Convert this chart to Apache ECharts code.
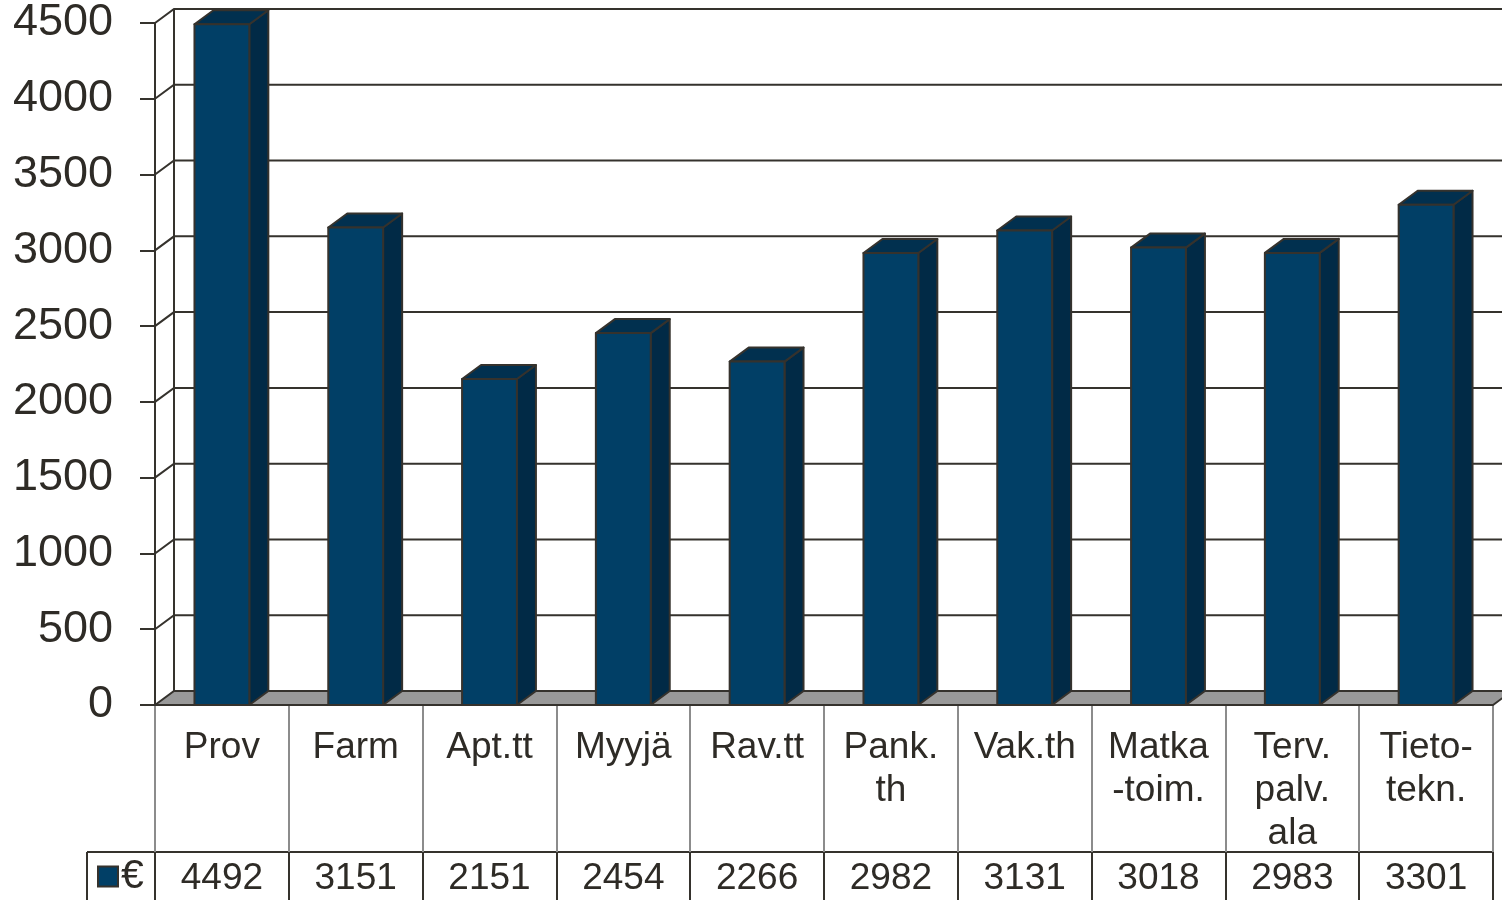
<!DOCTYPE html>
<html>
<head>
<meta charset="utf-8">
<script src="https://cdn.jsdelivr.net/npm/echarts@6/dist/echarts.min.js"></script>
<style>
html, body { margin: 0; padding: 0; background: #fff; }
#chart { width: 1502px; height: 900px; }
</style>
</head>
<body>
<div id="chart"></div>
<script>
// 分类（表格第一行）
var categories = ['Prov', 'Farm', 'Apt.tt', 'Myyjä', 'Rav.tt', 'Pank.\nth', 'Vak.th', 'Matka\n-toim.', 'Terv.\npalv.\nala', 'Tieto-\ntekn.'];
// 数值（表格第二行）
var values = [4492, 3151, 2151, 2454, 2266, 2982, 3131, 3018, 2983, 3301];
// y轴刻度
var yTicks = [0, 500, 1000, 1500, 2000, 2500, 3000, 3500, 4000, 4500];
var seriesName = '€';

// 3D 偏移
var DX = 19, DY = -14;
var textColor = '#2e2b26';
var lineColor = '#35322d';

// 后墙 + 地板
function renderWall(params, api) {
    var cs = params.coordSys;
    var v = api.value(1);
    var y = api.coord([0, v])[1];
    var x0 = cs.x, x1 = cs.x + cs.width;
    var children = [];
    if (v === 0) {
        children.push({
            type: 'polygon',
            shape: { points: [[x0, y], [x0 + DX, y + DY], [x1 + DX, y + DY], [x1, y]] },
            style: { fill: '#999999', stroke: lineColor, lineWidth: 2 }
        });
    } else {
        children.push({
            type: 'polyline',
            shape: { points: [[x0, y], [x0 + DX, y + DY], [x1 + DX + 20, y + DY]] },
            style: { fill: null, stroke: lineColor, lineWidth: 2 }
        });
    }
    if (v === yTicks[yTicks.length - 1]) {
        var yb = api.coord([0, 0])[1];
        children.push({
            type: 'line',
            shape: { x1: x0 + DX, y1: y + DY, x2: x0 + DX, y2: yb + DY },
            style: { stroke: lineColor, lineWidth: 2 }
        });
    }
    return { type: 'group', children: children };
}

// 3D 柱子
function renderBar(params, api) {
    var idx = api.value(0);
    var top = api.coord([idx, api.value(1)]);
    var bot = api.coord([idx, 0]);
    var hw = api.size([1, 0])[0] * 0.205;
    var l = top[0] - hw, r = top[0] + hw;
    var st = { stroke: lineColor, lineWidth: 2, lineJoin: 'round' };
    return {
        type: 'group',
        children: [
            {
                type: 'polygon',
                shape: { points: [[r, top[1]], [r + DX, top[1] + DY], [r + DX, bot[1] + DY], [r, bot[1]]] },
                style: Object.assign({ fill: '#012a46' }, st)
            },
            {
                type: 'polygon',
                shape: { points: [[l, top[1]], [l + DX, top[1] + DY], [r + DX, top[1] + DY], [r, top[1]]] },
                style: Object.assign({ fill: '#01304f' }, st)
            },
            {
                type: 'rect',
                shape: { x: l, y: top[1], width: r - l, height: bot[1] - top[1] },
                style: Object.assign({ fill: '#013f66' }, st)
            }
        ]
    };
}

var myChart = echarts.init(document.getElementById('chart'));
var option = {
    animation: false,
    backgroundColor: '#ffffff',
    textStyle: { fontFamily: '"Liberation Sans", Arial, sans-serif' },
    grid: { left: 155, right: 9, top: 23, bottom: 195, outerBoundsMode: 'none' },
    legend: {
        data: [seriesName],
        left: 97, top: 856,
        padding: 0,
        itemWidth: 20, itemHeight: 20,
        icon: 'rect',
        itemStyle: { borderColor: lineColor, borderWidth: 2 },
        textStyle: { fontSize: 41, color: textColor, padding: [0, 0, 0, -2] }
    },
    xAxis: [
        {
            type: 'category',
            data: categories,
            position: 'bottom',
            axisLine: { lineStyle: { color: lineColor, width: 2 } },
            axisTick: { show: true, length: 147, lineStyle: { color: '#8c8c8c', width: 2 } },
            axisLabel: { interval: 0, fontSize: 37, lineHeight: 43, color: textColor, margin: 21 }
        },
        {
            type: 'category',
            data: categories,
            position: 'bottom',
            offset: 147,
            axisLine: { lineStyle: { color: lineColor, width: 2 } },
            axisTick: { show: true, length: 48, lineStyle: { color: lineColor, width: 2 } },
            axisLabel: {
                interval: 0, fontSize: 37, lineHeight: 43, color: textColor, margin: 5,
                formatter: function (value, index) { return String(values[index]); }
            }
        }
    ],
    yAxis: {
        type: 'value',
        min: 0, max: 4500, interval: 500,
        axisLine: { show: true, lineStyle: { color: lineColor, width: 2 } },
        axisTick: { show: true, length: 15, lineStyle: { color: lineColor, width: 2 } },
        axisLabel: { fontSize: 45, color: textColor, margin: 42, formatter: function (v) { return String(v); } },
        splitLine: { show: false }
    },
    graphic: [
        { type: 'line', shape: { x1: 87, y1: 852, x2: 155, y2: 852 }, style: { stroke: lineColor, lineWidth: 2 } },
        { type: 'line', shape: { x1: 87, y1: 852, x2: 87, y2: 900 }, style: { stroke: lineColor, lineWidth: 2 } }
    ],
    series: [
        {
            name: 'walls',
            type: 'custom',
            renderItem: renderWall,
            data: yTicks.map(function (t) { return [0, t]; }),
            z: 1,
            silent: true
        },
        {
            name: seriesName,
            type: 'custom',
            renderItem: renderBar,
            itemStyle: { color: '#013f66' },
            data: values.map(function (v, i) { return [i, v]; }),
            z: 3
        }
    ]
};
myChart.setOption(option);
</script>
</body>
</html>
